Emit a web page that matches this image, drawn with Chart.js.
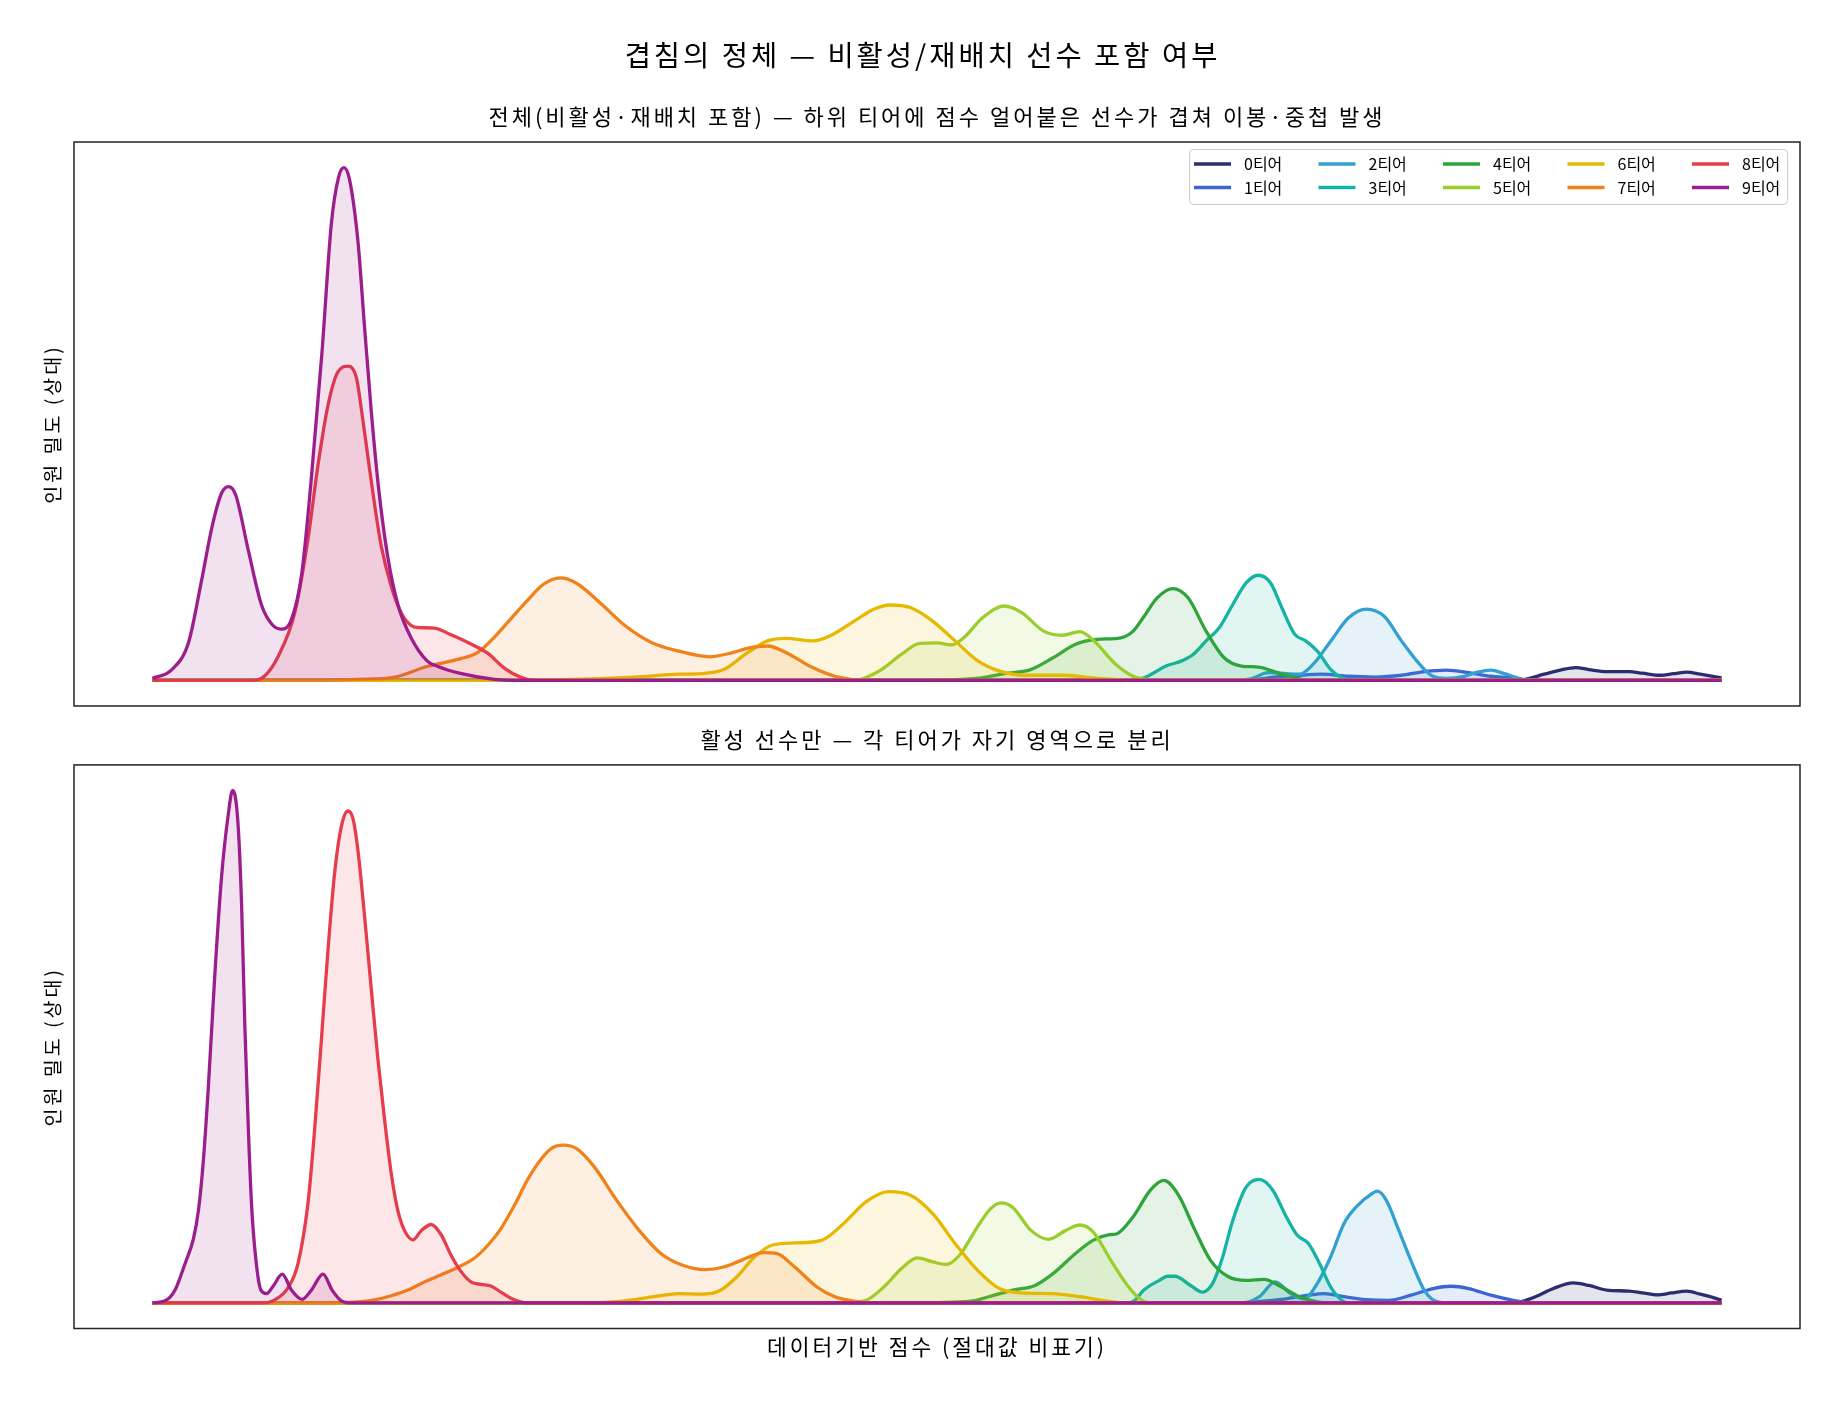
<!DOCTYPE html>
<html>
<head>
<meta charset="utf-8">
<script src="https://cdn.jsdelivr.net/npm/chart.js@4"></script>
<style>
  body { margin: 0; background: #fff; overflow: hidden; }
  .fig { position: relative; width: 1845px; height: 1405px; }
  canvas { position: absolute; left: 0; }
</style>
</head>
<body>
<div class="fig">
  <canvas id="allChart" width="1845" height="715" style="top:0"></canvas>
  <canvas id="activeChart" width="1845" height="690" style="top:715px"></canvas>
</div>
<script>
const mainTitle = '겹침의 정체 — 비활성/재배치 선수 포함 여부';
const allTitle = '전체(비활성·재배치 포함) — 하위 티어에 점수 얼어붙은 선수가 겹쳐 이봉·중첩 발생';
const activeTitle = '활성 선수만 — 각 티어가 자기 영역으로 분리';
const yLabel = '인원 밀도 (상대)';
const xLabel = '데이터기반 점수 (절대값 비표기)';

const tierNames = ['0티어', '1티어', '2티어', '3티어', '4티어', '5티어', '6티어', '7티어', '8티어', '9티어'];
const tierColors = ['#2b2d6e', '#3c64d2', '#33a0d2', '#14b4a5', '#2da53c', '#9bcd2d', '#e6b900', '#f08219', '#e63c4b', '#9b1e8c'];

// 전체 (score position 0-100, relative density)
const all0 = [[0,0],[86.5,0],[87.3,0.001],[88.7,0.012],[89.85,0.021],[90.7,0.025],[91.55,0.021],[92.7,0.017],[94.1,0.017],[94.95,0.014],[96.1,0.01],[96.94,0.013],[97.8,0.016],[98.64,0.012],[100,0.005]];
const all1 = [[0,0],[70,0],[71.1,0.005],[73.1,0.01],[74.5,0.012],[76.2,0.008],[77.9,0.0065],[79.6,0.01],[81.05,0.017],[82.47,0.02],[83.9,0.015],[85.3,0.008],[86.7,0.005],[87.6,0.001],[88.5,0],[100,0]];
const all2 = [[0,0],[69,0],[70,0.003],[71.1,0.015],[72.26,0.013],[73.1,0.012],[73.96,0.031],[75.1,0.077],[76.23,0.122],[77.36,0.139],[78.5,0.125],[79.6,0.077],[80.77,0.031],[81.6,0.008],[82.47,0.004],[83.6,0.008],[84.45,0.016],[85.3,0.02],[86.16,0.013],[87,0.005],[87.6,0],[100,0]];
const all3 = [[0,0],[62,0],[63.2,0.005],[64.6,0.028],[65.6,0.038],[66.3,0.05],[67.15,0.077],[68,0.103],[68.85,0.148],[69.7,0.19],[70.47,0.205],[71.26,0.19],[71.97,0.142],[72.8,0.09],[73.5,0.077],[74.24,0.057],[75.1,0.021],[75.8,0.005],[76.5,0],[100,0]];
const all4 = [[0,0],[49,0],[50.58,0.001],[52.85,0.005],[54.27,0.013],[55.97,0.021],[57.4,0.044],[58.8,0.07],[60.2,0.08],[61.7,0.083],[62.5,0.096],[63.2,0.125],[64.03,0.161],[65.03,0.179],[66,0.161],[67.15,0.096],[68.3,0.044],[69.4,0.028],[70.5,0.026],[71.7,0.015],[72.8,0.005],[73.7,0],[100,0]];
const all5 = [[0,0],[44,0],[44.9,0.001],[46.3,0.018],[47.75,0.051],[48.9,0.072],[50,0.073],[50.9,0.069],[51.7,0.083],[52.9,0.122],[54.3,0.145],[55.4,0.132],[56.8,0.096],[58,0.088],[59.1,0.095],[59.9,0.08],[61.4,0.031],[62.5,0.008],[63.1,0.003],[64,0],[100,0]];
const all6 = [[0,0],[20,0],[27.9,0.003],[30.7,0.0065],[33.56,0.012],[35,0.013],[36.4,0.021],[37.8,0.051],[39.2,0.077],[40.4,0.082],[42.07,0.077],[43.2,0.087],[44.9,0.119],[46,0.139],[47,0.147],[48.3,0.142],[49.7,0.116],[51.15,0.077],[52.6,0.038],[54,0.018],[55.7,0.01],[58,0.01],[59.9,0.005],[61.9,0.001],[63,0],[100,0]];
const all7 = [[0,0],[10,0],[13,0.002],[15.37,0.006],[17.49,0.027],[19.6,0.042],[20.66,0.053],[21.72,0.082],[22.78,0.118],[23.84,0.154],[24.9,0.187],[26,0.2],[27,0.19],[28.4,0.155],[30.15,0.106],[31.86,0.073],[33.56,0.057],[35.5,0.046],[36.96,0.054],[38.1,0.064],[39.2,0.067],[40.4,0.054],[42.07,0.025],[43.5,0.008],[44.9,0.001],[46,0],[100,0]];
const all8 = [[0,0],[6.5,0],[7.2,0.01],[8,0.046],[9.07,0.132],[9.92,0.277],[10.55,0.42],[11.19,0.537],[11.83,0.602],[12.5,0.613],[13,0.59],[13.31,0.53],[13.73,0.436],[14.16,0.342],[14.58,0.262],[15.22,0.183],[15.85,0.132],[16.49,0.107],[17,0.103],[17.97,0.102],[19.03,0.089],[20.3,0.071],[21.36,0.053],[22.42,0.024],[23.48,0.006],[24.4,0],[100,0]];
const all9 = [[0,0.004],[1.2,0.02],[2.3,0.074],[3.1,0.19],[3.8,0.3],[4.4,0.365],[4.85,0.378],[5.3,0.362],[6.1,0.255],[6.95,0.147],[7.6,0.11],[8.2,0.1],[8.85,0.118],[9.5,0.205],[10.1,0.385],[10.8,0.638],[11.4,0.89],[11.85,0.98],[12.2,1],[12.55,0.978],[13.1,0.855],[13.5,0.696],[13.95,0.523],[14.4,0.378],[15,0.24],[15.65,0.147],[16.5,0.082],[17.5,0.038],[18.2,0.027],[19.7,0.013],[21.8,0.002],[23,0],[100,0]];

// 활성 선수만
const act0 = [[0,0],[86.3,0],[87,0.001],[88.14,0.012],[89.28,0.028],[90.55,0.039],[91.55,0.034],[92.68,0.025],[94.1,0.023],[94.95,0.0195],[95.95,0.0156],[96.8,0.0195],[97.79,0.023],[98.64,0.017],[99.49,0.0104],[100,0.005]];
const act1 = [[0,0],[69.5,0],[70.27,0.002],[72.26,0.008],[73.67,0.015],[74.67,0.018],[75.94,0.012],[77.36,0.0065],[78.78,0.005],[80.2,0.015],[81.62,0.028],[82.75,0.0325],[83.89,0.028],[85.3,0.015],[86.72,0.005],[87.58,0.001],[88.5,0],[100,0]];
const act2 = [[0,0],[69.5,0],[70.55,0.012],[71.55,0.041],[72.54,0.018],[73.39,0.008],[74.24,0.038],[75.09,0.09],[75.94,0.155],[76.8,0.19],[77.65,0.212],[78.07,0.218],[78.64,0.2],[79.35,0.148],[80.2,0.083],[81.05,0.025],[81.9,0.002],[82.75,0],[100,0]];
const act3 = [[0,0],[62.2,0],[62.6,0.005],[63.18,0.025],[64.17,0.044],[64.7,0.052],[65.16,0.052],[66.16,0.034],[66.92,0.021],[67.57,0.038],[68.14,0.083],[68.85,0.161],[69.7,0.226],[70.55,0.241],[71.4,0.22],[72.26,0.168],[72.96,0.132],[73.67,0.116],[74.38,0.077],[75.09,0.031],[75.8,0.005],[76.23,0],[100,0]];
const act4 = [[0,0],[49.5,0],[50.58,0.001],[52.28,0.004],[53.42,0.013],[54.83,0.025],[56.25,0.034],[57.39,0.057],[58.81,0.096],[59.94,0.122],[61,0.133],[61.47,0.135],[62.5,0.168],[63.6,0.22],[64.45,0.239],[65.4,0.21],[66.44,0.142],[67.43,0.083],[68.57,0.051],[69.7,0.044],[70.84,0.046],[71.97,0.031],[73.1,0.012],[74.24,0.002],[75,0],[100,0]];
const act5 = [[0,0],[44,0],[45.47,0.005],[46.61,0.031],[47.74,0.067],[48.74,0.088],[49.73,0.08],[50.58,0.075],[51.43,0.093],[52.57,0.148],[53.42,0.184],[54.1,0.195],[54.83,0.186],[55.97,0.142],[57.1,0.124],[58.24,0.142],[59.09,0.152],[59.94,0.139],[61.08,0.083],[62.21,0.031],[63.06,0.005],[63.63,0],[100,0]];
const act6 = [[0,0],[27,0],[29.3,0.002],[30.72,0.0065],[32.14,0.013],[33.56,0.018],[34.98,0.017],[36.11,0.023],[37.25,0.051],[38.38,0.09],[39.52,0.113],[40.93,0.117],[42.64,0.122],[44.05,0.155],[45.47,0.197],[46.89,0.217],[48.31,0.21],[49.73,0.174],[51.15,0.116],[52.57,0.064],[53.98,0.028],[55.4,0.0195],[57.39,0.018],[59.09,0.012],[60.79,0.004],[61.93,0],[100,0]];
const act7 = [[0,0],[10,0],[13.1,0.002],[14.16,0.006],[15.22,0.014],[16.28,0.025],[17.34,0.041],[18.4,0.055],[19.45,0.069],[20.5,0.087],[21.36,0.112],[22.21,0.145],[23.06,0.19],[23.9,0.24],[24.75,0.28],[25.5,0.303],[26.18,0.308],[27.03,0.301],[28.17,0.265],[29.59,0.2],[31,0.142],[32.42,0.096],[33.84,0.073],[35.26,0.065],[36.4,0.07],[37.53,0.083],[38.95,0.098],[39.8,0.096],[40.93,0.07],[42.35,0.031],[43.49,0.012],[44.62,0.004],[45.47,0],[100,0]];
const act8 = [[0,0],[6.95,0],[7.8,0.006],[8.65,0.03],[9.28,0.077],[9.92,0.197],[10.34,0.34],[10.77,0.515],[11.19,0.69],[11.62,0.842],[12.04,0.93],[12.46,0.96],[12.78,0.945],[13.1,0.882],[13.52,0.754],[13.95,0.611],[14.37,0.475],[14.8,0.356],[15.22,0.252],[15.64,0.18],[16.07,0.141],[16.6,0.123],[17.13,0.141],[17.76,0.153],[18.4,0.133],[19.03,0.093],[19.67,0.061],[20.3,0.041],[20.94,0.036],[21.57,0.033],[22.21,0.021],[23.06,0.006],[23.9,0],[100,0]];
const act9 = [[0,0],[0.81,0.004],[1.44,0.025],[2.08,0.077],[2.61,0.125],[2.93,0.18],[3.24,0.276],[3.56,0.42],[3.98,0.643],[4.41,0.834],[4.83,0.953],[5.11,1],[5.43,0.945],[5.68,0.778],[5.89,0.539],[6.11,0.34],[6.32,0.189],[6.59,0.085],[6.91,0.025],[7.27,0.018],[7.7,0.033],[8.27,0.056],[8.86,0.025],[9.54,0.007],[10.13,0.025],[10.87,0.056],[11.45,0.025],[12.04,0.004],[12.67,0],[100,0]];

const allSeries = [all0, all1, all2, all3, all4, all5, all6, all7, all8, all9];
const actSeries = [act0, act1, act2, act3, act4, act5, act6, act7, act8, act9];

Chart.defaults.font.family = "'Noto Sans CJK KR', 'DejaVu Sans', sans-serif";
Chart.defaults.color = '#000';

function withAlpha(hex, a) {
	const n = parseInt(hex.slice(1), 16);
	return `rgba(${n >> 16}, ${(n >> 8) & 255}, ${n & 255}, ${a})`;
}

function makeDatasets(series) {
	return series.map((pts, i) => ({
		label: tierNames[i],
		data: pts,
		borderColor: tierColors[i],
		backgroundColor: withAlpha(tierColors[i], 0.13),
		borderWidth: 3.3,
		borderJoinStyle: 'round',
		fill: 'origin',
		pointRadius: 0,
		cubicInterpolationMode: 'monotone',
		order: 9 - i  // 9티어 on top, like the original draw order
	}));
}

// the original font is wider, so spread the titles a little
const wideText = {
	id: 'wideText',
	beforeDraw(chart) {
		chart.ctx.letterSpacing = '3px';
	}
};

// box around the plot area
const axesFrame = {
	id: 'axesFrame',
	afterDatasetsDraw(chart) {
		const { ctx, chartArea: a } = chart;
		ctx.save();
		ctx.strokeStyle = '#222';
		ctx.lineWidth = 1.5;
		ctx.strokeRect(a.left, a.top, a.right - a.left, a.bottom - a.top);
		ctx.restore();
	}
};

// 5 columns x 2 rows, filled column by column
const tierLegend = {
	id: 'tierLegend',
	afterDraw(chart, args, opts) {
		if (!opts.display) return;
		const { ctx, chartArea: a } = chart;
		const w = 598, h = 55;
		const left = a.right - 13 - w, top = a.top + 7;
		ctx.save();
		ctx.letterSpacing = '0px';
		ctx.fillStyle = 'rgba(255,255,255,0.8)';
		ctx.strokeStyle = '#cccccc';
		ctx.lineWidth = 1;
		ctx.beginPath();
		ctx.roundRect(left + 0.5, top + 0.5, w, h, 4);
		ctx.fill();
		ctx.stroke();
		ctx.font = "16px 'Noto Sans CJK KR', 'DejaVu Sans', sans-serif";
		ctx.textBaseline = 'middle';
		chart.data.datasets.forEach((ds, i) => {
			const x = left + 5 + Math.floor(i / 2) * 124.5;
			const y = top + 15 + (i % 2) * 23.5;
			ctx.strokeStyle = ds.borderColor;
			ctx.lineWidth = 3.3;
			ctx.beginPath();
			ctx.moveTo(x, y);
			ctx.lineTo(x + 37, y);
			ctx.stroke();
			ctx.fillStyle = '#000';
			ctx.fillText(ds.label, x + 50, y);
		});
		ctx.restore();
	}
};

function yScale() {
	return {
		min: -0.05, max: 1.05,
		ticks: { display: false },
		grid: { display: false, drawTicks: false },
		border: { display: false },
		title: { display: true, text: yLabel, font: { size: 19.5 }, padding: { top: -3.7, bottom: 9.3 } }
	};
}

new Chart(document.getElementById('allChart'), {
	type: 'line',
	data: { datasets: makeDatasets(allSeries) },
	plugins: [wideText, axesFrame, tierLegend],
	options: {
		responsive: false,
		animation: false,
		devicePixelRatio: 1,
		layout: { padding: { left: 45, right: 45, top: 0, bottom: 9 } },
		scales: {
			x: { type: 'linear', min: -5, max: 105, display: false },
			y: yScale()
		},
		plugins: {
			legend: { display: false },
			tooltip: { enabled: false },
			title: { display: true, text: mainTitle, font: { size: 28.5, weight: 'normal' }, padding: { top: 37.9, bottom: 0 } },
			subtitle: { display: true, text: allTitle, fullSize: false, font: { size: 22, weight: 'normal' }, padding: { top: 31.2, bottom: 12.3 } },
			tierLegend: { display: true }
		}
	}
});

new Chart(document.getElementById('activeChart'), {
	type: 'line',
	data: { datasets: makeDatasets(actSeries) },
	plugins: [wideText, axesFrame],
	options: {
		responsive: false,
		animation: false,
		devicePixelRatio: 1,
		layout: { padding: { left: 45, right: 45, top: 0, bottom: 0 } },
		scales: {
			x: {
				type: 'linear', min: -5, max: 105,
				ticks: { display: false },
				grid: { display: false, drawTicks: false },
				border: { display: false },
				title: { display: true, text: xLabel, font: { size: 21.5 }, padding: { top: 5.9, bottom: 44.8 } }
			},
			y: yScale()
		},
		plugins: {
			legend: { display: false },
			tooltip: { enabled: false },
			subtitle: { display: true, text: activeTitle, fullSize: false, font: { size: 22, weight: 'normal' }, padding: { top: 11.9, bottom: 11.6 } }
		}
	}
});
</script>
</body>
</html>
